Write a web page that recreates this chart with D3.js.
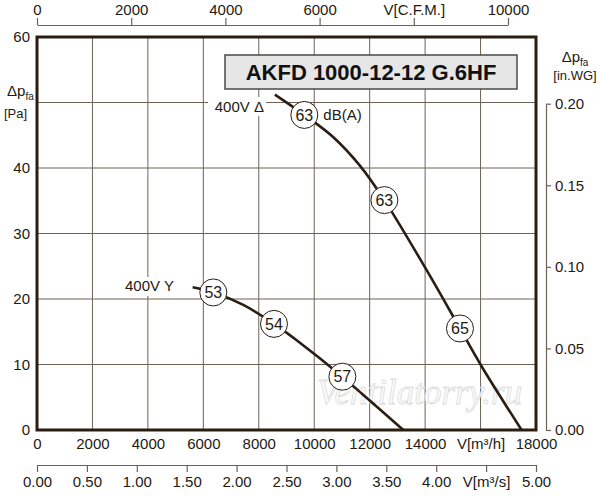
<html>
  <head>
    <meta charset="UTF-8">
    <script src="https://d3js.org/d3.v7.min.js"></script>
    <style>
      body {
        margin: 0;
        background: #fff;
        font-family: Arial, "Liberation Sans", Helvetica, sans-serif;
      }

      svg text {
        fill: #231a12;
      }

      .axis text {
        font-size: 15px;
        font-family: Arial, "Liberation Sans", sans-serif;
      }

      .axis path, .axis line {
        stroke: #6e6256;
        stroke-width: 1.2;
      }
    </style>
  </head>
  <body>
    <svg width="600" height="500"></svg>
    <script>
      // flow in m3/h, pressure in Pa
      const flowDelta = [8580, 9643, 10690, 11640, 12530, 14055, 15258, 16041, 17480];
      const pressDelta = [51.2, 48.1, 44.7, 40.4, 35.1, 24.4, 15.5, 9.7, 0];
      const flowStar = [5615, 6360, 7441, 8549, 9367, 11015, 11773, 13213];
      const pressStar = [21.8, 21.0, 19.1, 16.2, 13.7, 8.14, 5.34, 0];

      // noise markers dB(A)
      const markFlowDelta = [9643, 12530, 15258];
      const markPressDelta = [48.1, 35.1, 15.5];
      const markDbDelta = [63, 63, 65];
      const markFlowStar = [6360, 8549, 11015];
      const markPressStar = [21.0, 16.2, 8.14];
      const markDbStar = [53, 54, 57];

      const gridPa = [10, 20, 30, 40, 50];
      const ticksPa = [0, 10, 20, 30, 40, 60];   // 50 is left out, the unit sits there
      const ticksM3h = [0, 2000, 4000, 6000, 8000, 10000, 12000, 14000, 16000, 18000];
      const ticksM3s = [0, 0.5, 1, 1.5, 2, 2.5, 3, 3.5, 4, 4.5, 5];
      const ticksCfm = [0, 2000, 4000, 6000, 8000, 10000];
      const ticksInWg = [0, 0.05, 0.10, 0.15, 0.20];

      const CFM = 1.699;      // m3/h per cfm
      const INWG = 249.089;   // Pa per in.WG

      const svg = d3.select("svg");
      const ink = "#2a1d12";
      const gridColor = "#6e6256";

      const x = d3.scaleLinear().domain([0, 18000]).range([37, 536]);
      const y = d3.scaleLinear().domain([0, 60]).range([430, 37]);
      const xs = d3.scaleLinear().domain([0, 5]).range([37, 536]);
      const xc = d3.scaleLinear().domain([0, 10000]).range([x(0), x(10000 * CFM)]);
      const yw = d3.scaleLinear().domain([0, 0.2]).range([y(0), y(0.2 * INWG)]);

      // grid
      svg.append("g")
        .selectAll("line")
        .data(ticksM3h.slice(1, -1))
        .join("line")
          .attr("x1", (d) => x(d))
          .attr("x2", (d) => x(d))
          .attr("y1", y(60))
          .attr("y2", y(0))
          .attr("stroke", gridColor)
          .attr("stroke-width", 1);

      svg.append("g")
        .selectAll("line")
        .data(gridPa)
        .join("line")
          .attr("x1", x(0))
          .attr("x2", x(18000))
          .attr("y1", (d) => y(d))
          .attr("y2", (d) => y(d))
          .attr("stroke", gridColor)
          .attr("stroke-width", 1);

      // watermark
      svg.append("text")
        .attr("x", 317)
        .attr("y", 404)
        .style("font-family", "'Liberation Serif', 'DejaVu Serif', serif")
        .style("font-style", "italic")
        .style("font-size", "35px")
        .style("fill", "#fbfbfb")
        .attr("stroke", "#dcdcdc")
        .attr("stroke-width", 0.8)
        .text("Ventilatorry.ru");

      // title box
      svg.append("rect")
        .attr("x", 225)
        .attr("y", 55)
        .attr("width", 292)
        .attr("height", 34)
        .attr("fill", "#e6e6e6")
        .attr("stroke", "#4a4a4a")
        .attr("stroke-width", 1.5);

      svg.append("text")
        .attr("x", 371)
        .attr("y", 80)
        .attr("text-anchor", "middle")
        .style("font-size", "22px")
        .style("font-weight", "bold")
        .style("fill", "#111")
        .text("AKFD 1000-12-12 G.6HF");

      // curve labels with white background
      svg.append("rect").attr("x", 208).attr("y", 97).attr("width", 58).attr("height", 19).attr("fill", "#fff");
      svg.append("rect").attr("x", 122).attr("y", 277).attr("width", 60).attr("height", 19).attr("fill", "#fff");

      svg.append("text")
        .attr("x", 264)
        .attr("y", 112)
        .attr("text-anchor", "end")
        .style("font-size", "15px")
        .text("400V Δ");

      svg.append("text")
        .attr("x", 125)
        .attr("y", 291)
        .style("font-size", "15px")
        .text("400V Y");

      // curves
      const line = d3.line()
        .x((d) => x(d[0]))
        .y((d) => y(d[1]))
        .curve(d3.curveCatmullRom.alpha(0.5));

      const curves = [
        d3.zip(flowDelta, pressDelta),
        d3.zip(flowStar, pressStar)
      ];

      svg.append("g")
        .selectAll("path")
        .data(curves)
        .join("path")
          .attr("d", line)
          .attr("fill", "none")
          .attr("stroke", ink)
          .attr("stroke-width", 2.6);

      const marks = d3.zip(markFlowDelta, markPressDelta, markDbDelta)
        .concat(d3.zip(markFlowStar, markPressStar, markDbStar));

      const mark = svg.append("g")
        .selectAll("g")
        .data(marks)
        .join("g")
          .attr("transform", (d) => `translate(${x(d[0])}, ${y(d[1])})`);

      mark.append("circle")
        .attr("r", 13.5)
        .attr("fill", "#fff")
        .attr("stroke", ink)
        .attr("stroke-width", 1);

      mark.append("text")
        .attr("text-anchor", "middle")
        .attr("dy", "0.36em")
        .style("font-size", "16px")
        .text((d) => d[2]);

      svg.append("text")
        .attr("x", x(markFlowDelta[0]) + 19)
        .attr("y", y(markPressDelta[0]) + 5)
        .style("font-size", "15px")
        .text("dB(A)");

      // frame
      svg.append("rect")
        .attr("x", x(0))
        .attr("y", y(60))
        .attr("width", x(18000) - x(0))
        .attr("height", y(0) - y(60))
        .attr("fill", "none")
        .attr("stroke", ink)
        .attr("stroke-width", 3);

      // axes
      svg.append("g")
        .attr("class", "axis")
        .attr("transform", `translate(${x(0) - 1}, 0)`)
        .call(d3.axisLeft(y).tickValues(ticksPa).tickSize(0).tickPadding(6))
        .call((g) => g.select(".domain").remove());

      svg.append("g")
        .attr("class", "axis")
        .attr("transform", `translate(0, ${y(0)})`)
        .call(d3.axisBottom(x).tickValues(ticksM3h).tickSize(0).tickPadding(8)
          .tickFormat((d) => d === 16000 ? "V[m³/h]" : d))
        .call((g) => g.select(".domain").remove());

      svg.append("g")
        .attr("class", "axis")
        .attr("transform", "translate(0, 465)")
        .call(d3.axisBottom(xs).tickValues(ticksM3s).tickSize(7).tickSizeOuter(0).tickPadding(4)
          .tickFormat((d) => d === 4.5 ? "V[m³/s]" : d3.format(".2f")(d)));

      svg.append("g")
        .attr("class", "axis")
        .attr("transform", "translate(0, 25)")
        .call(d3.axisTop(xc).tickValues(ticksCfm).tickSize(7).tickSizeOuter(0).tickPadding(3)
          .tickFormat((d) => d === 8000 ? "V[C.F.M.]" : d));

      svg.append("g")
        .attr("class", "axis")
        .attr("transform", "translate(546, 0)")
        .call(d3.axisRight(yw).tickValues(ticksInWg).tickSize(5).tickSizeOuter(0).tickPadding(4)
          .tickFormat(d3.format(".2f")));

      // axis titles
      const leftTitle = svg.append("text")
        .attr("x", 7)
        .attr("y", 96)
        .style("font-size", "15px");
      leftTitle.append("tspan").text("Δp");
      leftTitle.append("tspan").attr("dy", 4).style("font-size", "10px").text("fa");

      svg.append("text")
        .attr("x", 4)
        .attr("y", 118)
        .style("font-size", "13px")
        .text("[Pa]");

      const rightTitle = svg.append("text")
        .attr("x", 575)
        .attr("y", 62)
        .attr("text-anchor", "middle")
        .style("font-size", "15px");
      rightTitle.append("tspan").text("Δp");
      rightTitle.append("tspan").attr("dy", 4).style("font-size", "10px").text("fa");

      svg.append("text")
        .attr("x", 575)
        .attr("y", 80)
        .attr("text-anchor", "middle")
        .style("font-size", "13px")
        .text("[in.WG]");
    </script>
  </body>
</html>
